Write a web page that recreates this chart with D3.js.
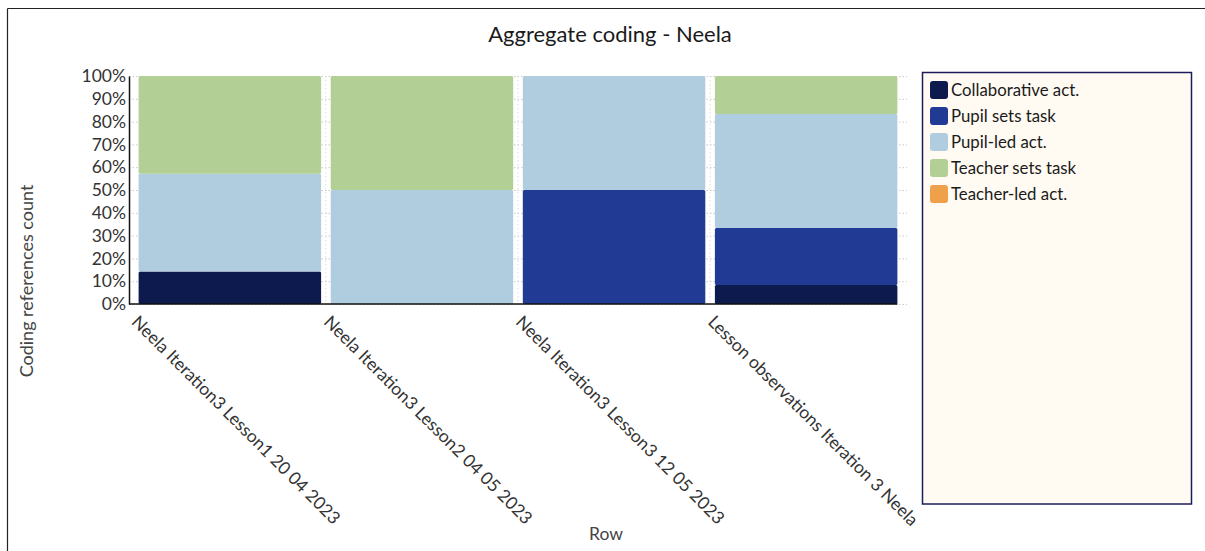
<!DOCTYPE html>
<html>
<head>
<meta charset="utf-8">
<script src="https://cdn.jsdelivr.net/npm/d3@7"></script>
<style>
  html, body { margin: 0; padding: 0; background: #ffffff; }
  svg { display: block; font-family: Lato, "Open Sans", sans-serif; }
</style>
</head>
<body>
<svg id="chart" width="1205" height="551"></svg>
<script>
// ---- data ----
const categories = [
  "Neela Iteration3 Lesson1 20 04 2023",
  "Neela Iteration3 Lesson2 04 05 2023",
  "Neela Iteration3 Lesson3 12 05 2023",
  "Lesson observations Iteration 3 Neela"
];
const seriesNames = ["Collaborative act.", "Pupil sets task", "Pupil-led act.", "Teacher sets task", "Teacher-led act."];
// percentage of coding references per category (stack order bottom -> top)
const collaborative = [14.29, 0, 0, 8.33];
const pupilSetsTask = [0, 0, 50, 25];
const pupilLed      = [42.86, 50, 50, 50];
const teacherSets   = [42.85, 50, 0, 16.67];
const teacherLed    = [0, 0, 0, 0];
const yTicks = [0, 10, 20, 30, 40, 50, 60, 70, 80, 90, 100];
const seriesColors = ["#0c1a4e", "#213a94", "#b0cde0", "#b2cf96", "#eea04a"];

const seriesValues = [collaborative, pupilSetsTask, pupilLed, teacherSets, teacherLed];
const table = categories.map((c, i) => {
  const row = { category: c };
  seriesNames.forEach((s, j) => row[s] = seriesValues[j][i]);
  return row;
});

const svg = d3.select("#chart");

// outer frame (top and left lines)
svg.append("line").attr("x1", 7.5).attr("x2", 1205).attr("y1", 8.5).attr("y2", 8.5)
  .attr("stroke", "#222").attr("stroke-width", 1.2);
svg.append("line").attr("x1", 7.5).attr("x2", 7.5).attr("y1", 8.5).attr("y2", 551)
  .attr("stroke", "#222").attr("stroke-width", 1.2);

const plot = { left: 129, right: 907, top: 76, bottom: 304 };

const x = d3.scaleBand().domain(categories).range([plot.left, plot.right]).paddingInner(0.05).paddingOuter(0.05);
const y = d3.scaleLinear().domain([0, 100]).range([plot.bottom, plot.top]);

// title
svg.append("text").attr("x", 610).attr("y", 42).attr("text-anchor", "middle")
  .attr("font-size", 22).attr("fill", "#1a1a1a").text("Aggregate coding - Neela");

// gridlines (dotted)
const grid = svg.append("g");
grid.selectAll("line.h").data(yTicks).join("line")
  .attr("x1", plot.left).attr("x2", plot.right)
  .attr("y1", d => y(d) + 0.5).attr("y2", d => y(d) + 0.5)
  .attr("stroke", "#c8c8c8").attr("stroke-dasharray", "1.5,2").attr("stroke-width", 1);
grid.selectAll("line.v").data(categories.slice(1)).join("line")
  .attr("x1", d => x(d) - x.step() * x.paddingInner() / 2)
  .attr("x2", d => x(d) - x.step() * x.paddingInner() / 2)
  .attr("y1", plot.top).attr("y2", plot.bottom)
  .attr("stroke", "#dddddd").attr("stroke-dasharray", "1.5,2.5").attr("stroke-width", 1);

// stacked bars
const stack = d3.stack().keys(seriesNames)(table);
const color = d3.scaleOrdinal().domain(seriesNames).range(seriesColors);
svg.append("g").selectAll("g").data(stack).join("g")
  .attr("fill", d => color(d.key))
  .selectAll("rect").data(d => d).join("rect")
  .attr("x", d => x(d.data.category))
  .attr("width", x.bandwidth())
  .attr("y", d => y(d[1]))
  .attr("height", d => Math.max(0, y(d[0]) - y(d[1])))
  .attr("rx", 1.5);

// y axis
const yAxis = d3.axisLeft(y).tickValues(yTicks).tickFormat(d => d + "%").tickSize(0).tickPadding(3);
const yg = svg.append("g").attr("transform", `translate(${plot.left},0)`).call(yAxis);
yg.select(".domain").attr("stroke", "#111").attr("stroke-width", 1.5);
yg.selectAll("text").attr("font-size", 17.5).attr("fill", "#333").attr("font-family", "Lato, sans-serif");

// x axis line
const xAxis = d3.axisBottom(x).tickSize(0).tickFormat("");
const xg = svg.append("g").attr("transform", `translate(0,${plot.bottom})`).call(xAxis);
xg.select(".domain").attr("stroke", "#111").attr("stroke-width", 1.5)
  .attr("d", `M${plot.left},0H${x(categories[3]) + x.bandwidth()}`);

// x tick labels (rotated 45deg)
svg.append("g").selectAll("text").data(categories).join("text")
  .attr("transform", d => `translate(${x(d) - 8},${plot.bottom + 19}) rotate(45)`)
  .attr("text-anchor", "start")
  .attr("font-size", 17.5).attr("fill", "#333")
  .text(d => d);

// axis titles
svg.append("text").attr("transform", "translate(33,281) rotate(-90)")
  .attr("text-anchor", "middle").attr("font-size", 18).attr("fill", "#444")
  .text("Coding references count");
svg.append("text").attr("x", 606).attr("y", 540).attr("text-anchor", "middle")
  .attr("font-size", 17.5).attr("fill", "#444").text("Row");

// legend
const lg = svg.append("g");
lg.append("rect").attr("x", 922.5).attr("y", 72.5).attr("width", 269).attr("height", 431.5)
  .attr("fill", "#fffaf2").attr("stroke", "#1c1c5c").attr("stroke-width", 1.5);
const items = lg.selectAll("g.item").data(seriesNames).join("g")
  .attr("transform", (d, i) => `translate(930,${81 + i * 26})`);
items.append("rect").attr("width", 18).attr("height", 18).attr("rx", 3)
  .attr("fill", d => color(d));
items.append("text").attr("x", 21).attr("y", 15).attr("font-size", 16.8).attr("fill", "#1a1a1a")
  .text(d => d);
</script>
</body>
</html>
